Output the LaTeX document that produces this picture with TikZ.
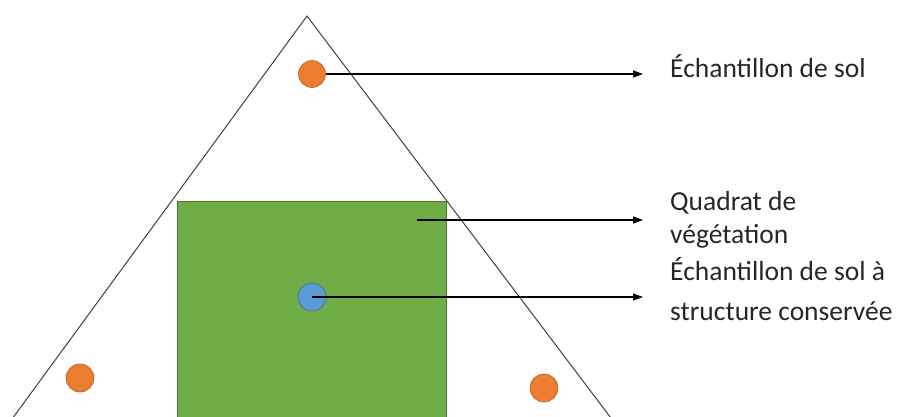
\documentclass[tikz,border=0pt]{standalone}
\usepackage{fontspec}
\setmainfont{Carlito}
\usetikzlibrary{arrows.meta}
\definecolor{soilorange}{HTML}{ED7D31}
\definecolor{soilblue}{HTML}{5B9BD5}
\definecolor{quadgreen}{HTML}{70AD47}

\begin{document}
\begin{tikzpicture}[x=1pt,y=-1pt,
    sample/.style={circle, draw=soilorange!75!black, fill=soilorange, minimum size=28pt, inner sep=0pt, line width=0.6pt},
    core/.style={sample, draw=soilblue!70!black, fill=soilblue},
    pointer/.style={-{Triangle[length=10pt,width=7pt]}, line width=1.2pt, black},
    lbl/.style={anchor=base west, align=left, inner sep=0pt, text=black!85, font=\fontsize{27.5}{33}\selectfont}]
                        \useasboundingbox (0,0) rectangle (897,416);
                        \clip (0,0) rectangle (897,416);

                        % Plot
                        \coordinate (apex) at (307,16);
                        \coordinate (bl) at (4,430);
                        \coordinate (br) at (620,430);
                        \draw[line width=1pt, black!75] (bl) -- (apex) -- (br);
                        \fill[quadgreen, draw=quadgreen!70!black, line width=0.8pt] (177,201) rectangle (446,440);

                        % Nodes
                        \node[sample, minimum size=27pt] (top) at (312,74) {};
                        \node[sample] (left) at (80,378) {};
                        \node[sample] (right) at (544,388) {};
                        \node[core] (core) at (312,297) {};
                        \coordinate (quad) at (417,220);

                        \coordinate (tip1) at (643,74);
                        \coordinate (tip2) at (643,220);
                        \coordinate (tip3) at (643,297);

                        % labels sit on the baseline of their last line
                        \node[lbl] (lsol) at (670,77) {Échantillon de sol};
                        \node[lbl] (lquad) at (670,243) {Quadrat de\\végétation};
                        \node[lbl] (lcore) at (670,320) {Échantillon de sol à\\[7pt]structure conservée};

                        % Edges
                        \draw[pointer] (top.east) -- (tip1);
                        \draw[pointer] (quad) -- (tip2);
                        \draw[pointer] (core.center) -- (tip3);
                    \end{tikzpicture}
\end{document}
